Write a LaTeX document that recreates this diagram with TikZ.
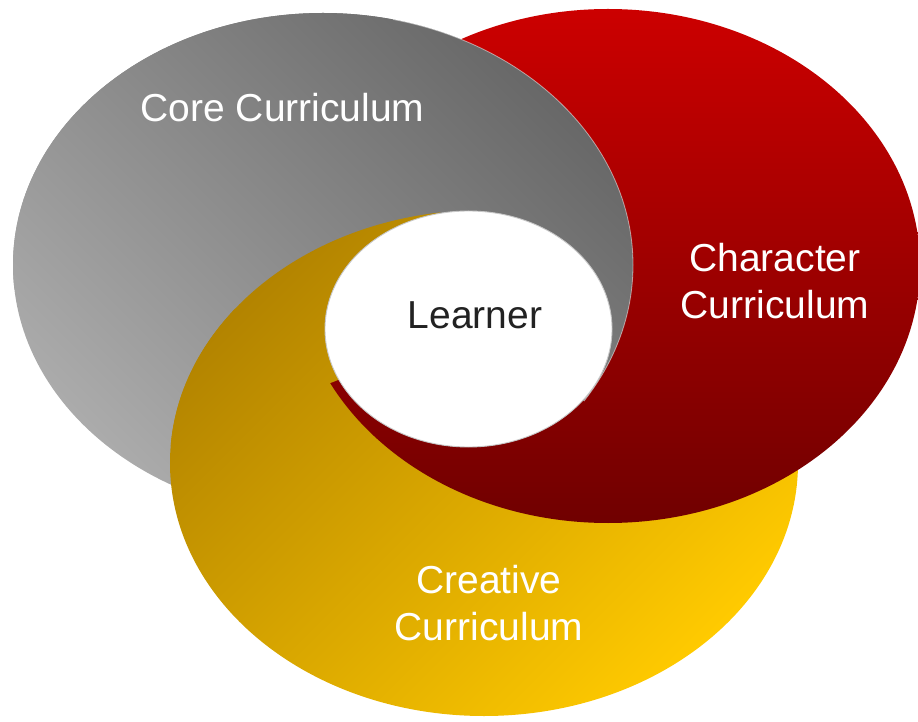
\documentclass[tikz,border=0pt]{standalone}
\usepackage{fontspec}
\setmainfont{Liberation Sans}
\definecolor{grayDark}{HTML}{686868}
\definecolor{grayLight}{HTML}{ABABAB}
\definecolor{redTop}{HTML}{CC0000}
\definecolor{redBot}{HTML}{700000}
\definecolor{yelDark}{HTML}{B38400}
\definecolor{yelLight}{HTML}{FFCA00}
\definecolor{textDark}{HTML}{222222}
\newcommand{\ringGray}{\shade[grayring] (323,456) ellipse [x radius=310, y radius=252];}
\newcommand{\ringRed}{\shade[redring] (608,455) ellipse [x radius=312, y radius=257];}
\newcommand{\ringYellow}{\shade[yelring] (484,258) ellipse [x radius=314, y radius=253];}
\begin{document}
\begin{tikzpicture}[x=1pt,y=1pt,
  grayring/.style={top color=grayDark, bottom color=grayLight, shading angle=-45},
  redring/.style={top color=redTop, bottom color=redBot},
  yelring/.style={top color=yelDark, bottom color=yelLight, shading angle=45},
  label/.style={font=\fontsize{39}{47}\selectfont, text=white, anchor=base, inner sep=0pt},
  center label/.style={label, text=textDark}]
\useasboundingbox (0,0) rectangle (918,721);
% base layer: red over yellow over grey
\ringGray
\ringYellow
\ringRed
% grey lies over red everywhere outside the lower sector
\begin{scope}
  \clip (468.5,392) -- (1890.5,-496) -- (2000,-496) -- (2000,1800) -- (-1600,1800)
        -- (-1600,566) -- (-1523.5,566) -- cycle;
  \ringGray
\end{scope}
% thin light rim where grey passes over red
\begin{scope}
  \clip (468.5,392) -- (126.5,1796) -- (2000,1796) -- (2000,-496) -- (1890.5,-496) -- cycle;
  \draw[white, opacity=0.5, line width=0.8] (323,456) ellipse [x radius=310, y radius=252];
\end{scope}
% yellow lies on top in the left sector
\begin{scope}
  \clip (468.5,392) -- (126.5,1796) -- (-1600,1796) -- (-1600,-244) -- (-1157.5,-244) -- cycle;
  \ringYellow
\end{scope}
% white centre
\fill[white, draw=black!22, line width=0.9] (468.5,392) ellipse [x radius=143.5, y radius=118];
\node[label] (core) at (282.5,599) {Core Curriculum};
\node[label] (character) at (775,449) {\begin{tabular}[t]{@{}c@{}}Character\\Curriculum\end{tabular}};
\node[label] (creative) at (489,128) {\begin{tabular}[t]{@{}c@{}}Creative\\Curriculum\end{tabular}};
\node[center label] (learner) at (475,392) {Learner};
\end{tikzpicture}
\end{document}
